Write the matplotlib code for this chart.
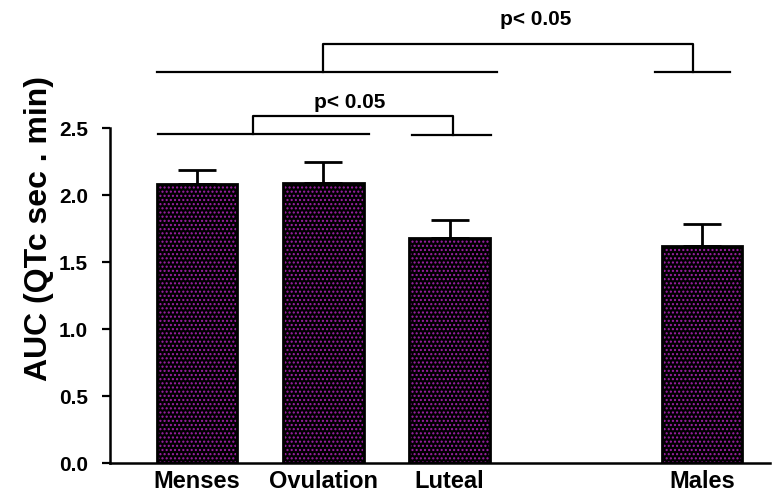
import matplotlib.pyplot as plt
import numpy as np

plt.rcParams['font.family'] = ['Liberation Sans', 'DejaVu Sans']
plt.rcParams['hatch.linewidth'] = 1.0

groups = ["Menses", "Ovulation", "Luteal", "Males"]
pos = [0, 1, 2, 4]          # empty slot between Luteal and Males
auc = [2.08, 2.09, 1.68, 1.62]
sem = [0.11, 0.16, 0.13, 0.16]

# significance brackets (x, y in data units)
grp_lines = [([-0.32, 2.38], 2.92), ([3.63, 4.22], 2.92),
             ([-0.31, 1.36], 2.455), ([1.70, 2.33], 2.45)]
brackets = [(1.0, 3.93, 2.92, 3.13, 2.92), (0.44, 2.03, 2.455, 2.59, 2.45)]
p_text = [(2.68, 3.31, "p< 0.05"), (1.21, 2.69, "p< 0.05")]

fig = plt.figure(figsize=(7.72, 4.96), dpi=100)
ax = fig.add_axes([0.1425, 0.0665, 0.855, 0.6754])

ax.bar(pos, auc, width=0.64, color="black", edgecolor="#a020a8",
       hatch="....", linewidth=0, zorder=2)
ax.bar(pos, auc, width=0.64, fill=False, edgecolor="black", linewidth=2,
       zorder=3)
ax.errorbar(pos, auc, yerr=[np.zeros(len(auc)), sem], fmt="none",
            ecolor="black", elinewidth=2, capsize=14, capthick=2, zorder=1)

for xs, y in grp_lines:
    ax.plot(xs, [y, y], color="black", lw=1.6, clip_on=False)
for x1, x2, y1, ytop, y2 in brackets:
    ax.plot([x1, x1, x2, x2], [y1, ytop, ytop, y2], color="black", lw=1.6,
            clip_on=False)
for x, y, t in p_text:
    ax.text(x, y, t, ha="center", va="center", fontsize=15,
            fontweight="bold")

ax.set_xlim(-0.69, 4.54)
ax.set_ylim(0, 2.5)
ax.set_yticks(np.arange(0, 2.51, 0.5))
ax.set_yticklabels(["0.0", "0.5", "1.0", "1.5", "2.0", "2.5"],
                   fontsize=15, fontweight="bold")
ax.set_xticks(pos)
ax.set_xticklabels(groups, fontsize=17, fontweight="bold")
ax.tick_params(axis="x", length=0, pad=5)
ax.tick_params(axis="y", length=6, width=1.6, direction="out", pad=10)
ax.spines["top"].set_visible(False)
ax.spines["right"].set_visible(False)
ax.spines["left"].set_linewidth(1.8)
ax.spines["bottom"].set_linewidth(1.8)
ax.set_ylabel("AUC (QTc sec . min)", fontsize=23, fontweight="bold")
ax.yaxis.set_label_coords(-0.085, 0.70)

fig.savefig("out.png", dpi=100)
